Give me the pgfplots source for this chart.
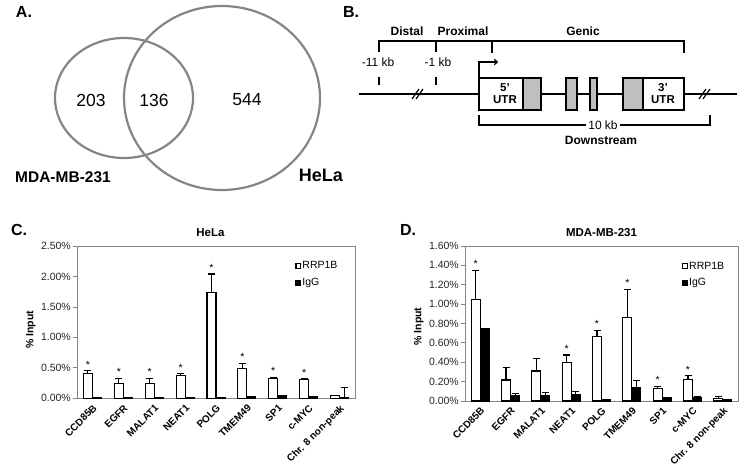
\documentclass[border=0pt]{standalone}
\usepackage{fontspec}
\setmainfont{Liberation Sans}
\usepackage{pgfplots}
\pgfplotsset{compat=1.18}
\usepackage{pgfplotstable}
\usetikzlibrary{arrows.meta}
\definecolor{axgray}{HTML}{868686}
\definecolor{venngray}{HTML}{858585}
\definecolor{boxgray}{HTML}{BFBFBF}
\pgfkeys{/pgf/number format/assume math mode=true}

% HeLa: RRP1B mean, +error, IgG mean, +error
\pgfplotstableread{
x rrp err igg iggerr
0 0.41  0.040 0.010 0.000
1 0.245 0.080 0.012 0.000
2 0.25  0.080 0.020 0.000
3 0.37  0.030 0.020 0.000
4 1.73  0.310 0.012 0.000
5 0.49  0.080 0.022 0.000
6 0.33  0.012 0.040 0.010
7 0.31  0.010 0.030 0.005
8 0.04  0.010 0.005 0.165
}\helatab

% MDA-MB-231
\pgfplotstableread{
x rrp err igg iggerr
0 1.05  0.300 0.750 0.000
1 0.217 0.130 0.055 0.025
2 0.31  0.130 0.058 0.030
3 0.40  0.075 0.069 0.030
4 0.67  0.060 0.010 0.000
5 0.86  0.290 0.140 0.070
6 0.13  0.020 0.040 0.000
7 0.224 0.035 0.040 0.010
8 0.03  0.020 0.015 0.000
}\mdatab

\pgfplotsset{
  barchart/.style={
    scale only axis,
    ybar=0pt, bar width=9pt,
    xmin=-0.5, xmax=8.5, ymin=0,
    axis line style={draw=axgray, line width=0.8pt},
    tick align=outside, xtick pos=bottom, ytick pos=left,
    xtick={0,...,8},
    xticklabels={CCD85B,EGFR,MALAT1,NEAT1,POLG,TMEM49,SP1,c-MYC,Chr. 8 non-peak},
    x tick label style={rotate=45, anchor=north east, inner sep=1pt,
      font=\bfseries\fontsize{10}{11}\selectfont},
    major x tick style={draw=none},
    extra x ticks={-0.5,0.5,1.5,2.5,3.5,4.5,5.5,6.5,7.5,8.5},
    extra x tick labels={},
    extra x tick style={major tick length=4pt, tick style={draw=axgray, line width=0.8pt}},
    major y tick style={draw=axgray, line width=0.8pt},
    major tick length=4pt,
    yticklabel={\pgfmathprintnumber[fixed,fixed zerofill,precision=2]{\tick}\%},
    y tick label style={font=\fontsize{10.5}{11}\selectfont, color=black!85, inner sep=2pt},
    ylabel={\% Input},
    ylabel style={font=\bfseries\fontsize{10.5}{11}\selectfont},
    title style={font=\bfseries\fontsize{11.5}{12}\selectfont, anchor=south, yshift=0pt},
    legend style={draw=none, fill=none, anchor=north west, inner sep=0pt,
      font=\fontsize{10.5}{11}\selectfont, row sep=6pt,
      nodes={inner sep=1pt}},
    legend cell align=left,
    legend image code/.code={\draw[##1,draw=black,line width=1.2pt] (0.6pt,-2.4pt) rectangle (5.4pt,2.4pt);},
  },
  rrpstyle/.style={fill=white, draw=black, line width=1.1pt, bar shift=-4.5pt,
    error bars/.cd, y dir=plus, y explicit,
    error bar style={line width=1.1pt, black},
    error mark options={rotate=90, mark size=3.5pt, line width=1.1pt, black}},
  iggstyle/.style={fill=black, draw=black, line width=1.1pt, bar shift=4.5pt,
    error bars/.cd, y dir=plus, y explicit,
    error bar style={line width=1pt, black},
    error mark options={rotate=90, mark size=3.5pt, line width=1pt, black}},
  starstyle/.style={forget plot, draw=none, fill=none, bar shift=-4.5pt,
    nodes near coords={*},
    every node near coord/.append style={inner sep=0pt, anchor=south, yshift=2.5pt,
      font=\fontsize{10.5}{11}\selectfont, text=black}},
}

\begin{document}
\begin{tikzpicture}[x=1pt,y=1pt]
\useasboundingbox (0,0) rectangle (750,467);

% ---------- Panel A : Venn ----------
\node[font=\bfseries\fontsize{16}{17}\selectfont] at (24,455) {A.};
\draw[venngray, line width=2.2pt] (124,369) ellipse [x radius=69, y radius=60];
\draw[venngray, line width=2.2pt] (222,369) ellipse [x radius=98, y radius=92];
\node[font=\fontsize{17.5}{18}\selectfont] at (91,367) {203};
\node[font=\fontsize{17.5}{18}\selectfont] at (154,367) {136};
\node[font=\fontsize{17.5}{18}\selectfont] at (247,367) {544};
\node[font=\bfseries\fontsize{15.5}{16}\selectfont, anchor=west, inner sep=0pt] at (15,290) {MDA-MB-231};
\node[font=\bfseries\fontsize{18}{19}\selectfont] at (321,292) {HeLa};

% ---------- Panel B : schematic ----------
\node[font=\bfseries\fontsize{16}{17}\selectfont] at (351,455) {B.};
\begin{scope}[line width=1.2pt]
  \draw (359,373) -- (737,373);
  \draw (412,368) -- (419,378); \draw (416,368) -- (423,378);
  \draw (699,368) -- (706,378); \draw (703,368) -- (710,378);
  \draw[fill=white] (479,357) rectangle (523,389);
  \draw[fill=boxgray] (523,357) rectangle (541,389);
  \draw[fill=boxgray] (566,357) rectangle (577,389);
  \draw[fill=boxgray] (590,357) rectangle (597,389);
  \draw[fill=boxgray] (623,357) rectangle (643,389);
  \draw[fill=white] (643,357) rectangle (684,389);
  \draw (379,415) -- (379,426) -- (684,426) -- (684,414);
  \draw (436,426) -- (436,415);
  \draw (492,426) -- (492,414);
  \draw (379,382) -- (379,390);
  \draw (436,382) -- (436,390);
  \draw[-{To[length=4pt,width=6pt]}] (479,389) -- (479,405) -- (498,405);
  \draw (479,352) -- (479,342) -- (710,342) -- (710,352);
\end{scope}
\node[font=\bfseries\fontsize{11.5}{13}\selectfont, align=center] at (505,373) {5'\\[-1pt]UTR};
\node[font=\bfseries\fontsize{11.5}{13}\selectfont, align=center] at (663,373) {3'\\[-1pt]UTR};
\node[font=\bfseries\fontsize{12}{13}\selectfont] at (407,436) {Distal};
\node[font=\bfseries\fontsize{12}{13}\selectfont] at (463,436) {Proximal};
\node[font=\bfseries\fontsize{12}{13}\selectfont] at (583,436) {Genic};
\node[font=\fontsize{12}{13}\selectfont] at (378,405) {-11 kb};
\node[font=\fontsize{12}{13}\selectfont] at (438,405) {-1 kb};
\node[font=\fontsize{12}{13}\selectfont, fill=white, inner sep=2pt] at (603,342) {10 kb};
\node[font=\bfseries\fontsize{12}{13}\selectfont] at (601,327) {Downstream};

% ---------- Panel C ----------
\node[font=\bfseries\fontsize{16}{17}\selectfont] at (19,237) {C.};
\begin{axis}[barchart,
  at={(77pt,68.7pt)}, anchor=south west,
  width=278pt, height=152.3pt,
  ymax=2.5, ytick={0,0.5,1,1.5,2,2.5},
  ylabel style={at={(ticklabel cs:0.45)}},
  title={HeLa}, title style={at={(rel axis cs:0.48,1)}},
  legend style={at={(rel axis cs:0.785,0.905)}},
]
\addplot[rrpstyle] table[x=x, y=rrp, y error=err] {\helatab};
\addlegendentry{RRP1B}
\addplot[iggstyle] table[x=x, y=igg, y error=iggerr] {\helatab};
\addlegendentry{IgG}
% significance stars at top of RRP1B error bars
\addplot[starstyle] coordinates {(0,0.45) (1,0.325) (2,0.33) (3,0.40) (4,2.04) (5,0.57) (6,0.342) (7,0.32)};
\end{axis}

% ---------- Panel D ----------
\node[font=\bfseries\fontsize{16}{17}\selectfont] at (408,237) {D.};
\begin{axis}[barchart,
  at={(465pt,66pt)}, anchor=south west,
  width=273pt, height=155pt,
  ymax=1.6, ytick={0,0.2,0.4,0.6,0.8,1.0,1.2,1.4,1.6},
  ylabel style={at={(ticklabel cs:0.48)}},
  title={MDA-MB-231}, title style={at={(rel axis cs:0.5,1)}},
  legend style={at={(rel axis cs:0.795,0.905)}},
]
\addplot[rrpstyle] table[x=x, y=rrp, y error=err] {\mdatab};
\addlegendentry{RRP1B}
\addplot[iggstyle] table[x=x, y=igg, y error=iggerr] {\mdatab};
\addlegendentry{IgG}
\addplot[starstyle] coordinates {(0,1.35) (3,0.475) (4,0.73) (5,1.15) (6,0.15) (7,0.259)};
\end{axis}
\end{tikzpicture}
\end{document}
